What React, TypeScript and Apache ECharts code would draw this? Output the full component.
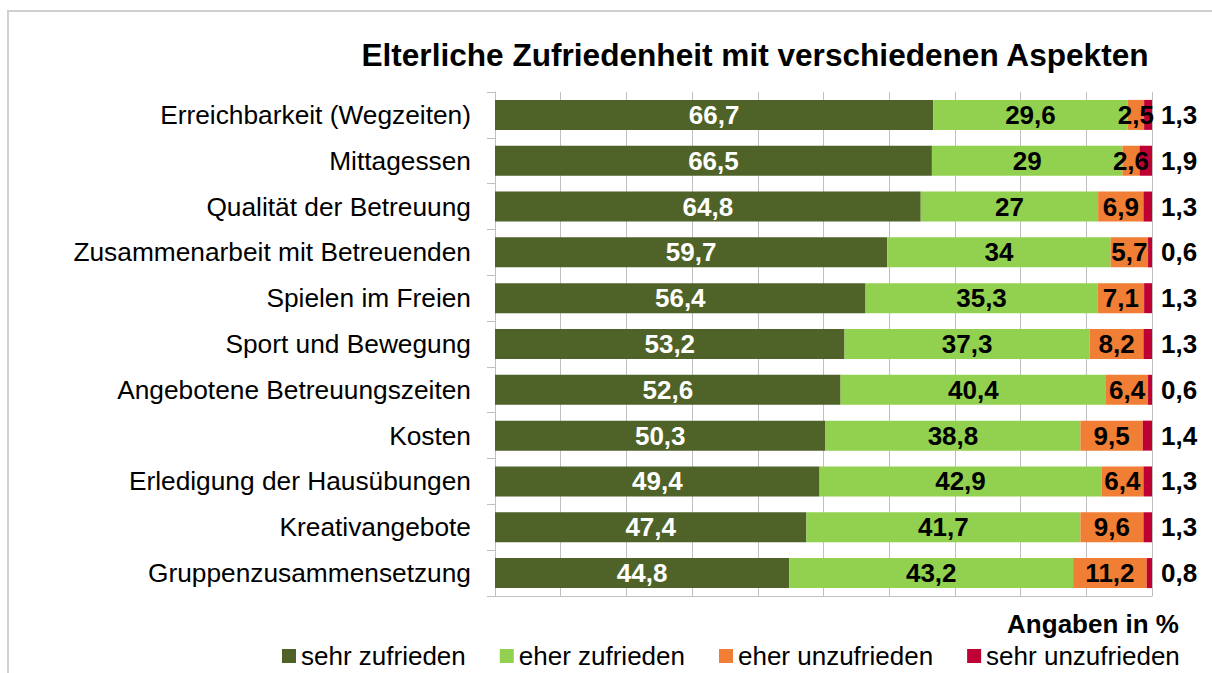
import React, { useEffect, useRef } from "react";
import * as echarts from "echarts";

const categories = [
  "Erreichbarkeit (Wegzeiten)",
  "Mittagessen",
  "Qualität der Betreuung",
  "Zusammenarbeit mit Betreuenden",
  "Spielen im Freien",
  "Sport und Bewegung",
  "Angebotene Betreuungszeiten",
  "Kosten",
  "Erledigung der Hausübungen",
  "Kreativangebote",
  "Gruppenzusammensetzung",
];
const sehrZufrieden = [66.7, 66.5, 64.8, 59.7, 56.4, 53.2, 52.6, 50.3, 49.4, 47.4, 44.8];
const eherZufrieden = [29.6, 29, 27, 34, 35.3, 37.3, 40.4, 38.8, 42.9, 41.7, 43.2];
const eherUnzufrieden = [2.5, 2.6, 6.9, 5.7, 7.1, 8.2, 6.4, 9.5, 6.4, 9.6, 11.2];
const sehrUnzufrieden = [1.3, 1.9, 1.3, 0.6, 1.3, 1.3, 0.6, 1.4, 1.3, 1.3, 0.8];
const seriesNames = ["sehr zufrieden", "eher zufrieden", "eher unzufrieden", "sehr unzufrieden"];
const seriesColors = ["#4F6228", "#92D050", "#F07E34", "#BE0032"];
const titleText = "Elterliche Zufriedenheit mit verschiedenen Aspekten";
const unitText = "Angaben in %";

const FONT = "'Liberation Sans', Arial, Helvetica, sans-serif";
const fmt = (p: any) => String(p.value).replace(".", ",");

export default function App() {
  const ref = useRef<HTMLDivElement>(null);
  useEffect(() => {
    if (!ref.current) return;
    const chart = echarts.init(ref.current, undefined, { renderer: "svg" });
    const data = [sehrZufrieden, eherZufrieden, eherUnzufrieden, sehrUnzufrieden];
    const series = data.map((d, i) => ({
      name: seriesNames[i],
      type: "bar",
      stack: "total",
      barWidth: 30,
      data: d,
      itemStyle: { color: seriesColors[i] },
      label: {
        show: true,
        position: i === 3 ? "right" : "inside",
        distance: 9,
        formatter: fmt,
        color: i === 0 ? "#ffffff" : "#000000",
        fontSize: 26,
        fontWeight: "bold",
        fontFamily: FONT,
      },
    }));
    chart.setOption({
      animation: false,
      textStyle: { fontFamily: FONT },
      grid: { left: 495, right: 60, top: 92, bottom: 77, containLabel: false },
      xAxis: {
        type: "value",
        min: 0,
        max: 100,
        interval: 10,
        axisLabel: { show: false },
        axisTick: { show: false },
        axisLine: { show: true, lineStyle: { color: "#bfbfbf", width: 1 } },
        splitLine: { show: true, lineStyle: { color: "#bfbfbf", width: 1 } },
      },
      yAxis: {
        type: "category",
        inverse: true,
        data: categories,
        axisLine: { show: true, lineStyle: { color: "#bfbfbf", width: 1 } },
        axisTick: { show: true, length: 8, lineStyle: { color: "#bfbfbf" } },
        axisLabel: { color: "#000", fontSize: 26.3, fontFamily: FONT, margin: 24 },
      },
      legend: {
        data: seriesNames,
        left: 277,
        top: 638,
        itemWidth: 14,
        itemHeight: 14,
        itemGap: 34,
        icon: "rect",
        textStyle: { fontSize: 26, color: "#000", fontFamily: FONT, lineHeight: 26 },
      },
      graphic: [
        {
          type: "rect",
          shape: { x: 8, y: 11, width: 1300, height: 800 },
          style: { fill: "none", stroke: "#d0d0d0", lineWidth: 2 },
          silent: true,
        },
        {
          type: "text",
          x: 755,
          y: 55,
          style: {
            text: titleText,
            font: `bold 31.6px ${FONT}`,
            fill: "#000",
            textAlign: "center",
            textVerticalAlign: "middle",
          },
        },
        {
          type: "text",
          x: 1179,
          y: 624,
          style: {
            text: unitText,
            font: `bold 26px ${FONT}`,
            fill: "#000",
            textAlign: "right",
            textVerticalAlign: "middle",
          },
        },
      ],
      series,
    });
    return () => chart.dispose();
  }, []);
  return (
    <div
      ref={ref}
      style={{ position: "absolute", left: 0, top: 0, width: 1212, height: 673, background: "#fff" }}
    />
  );
}
